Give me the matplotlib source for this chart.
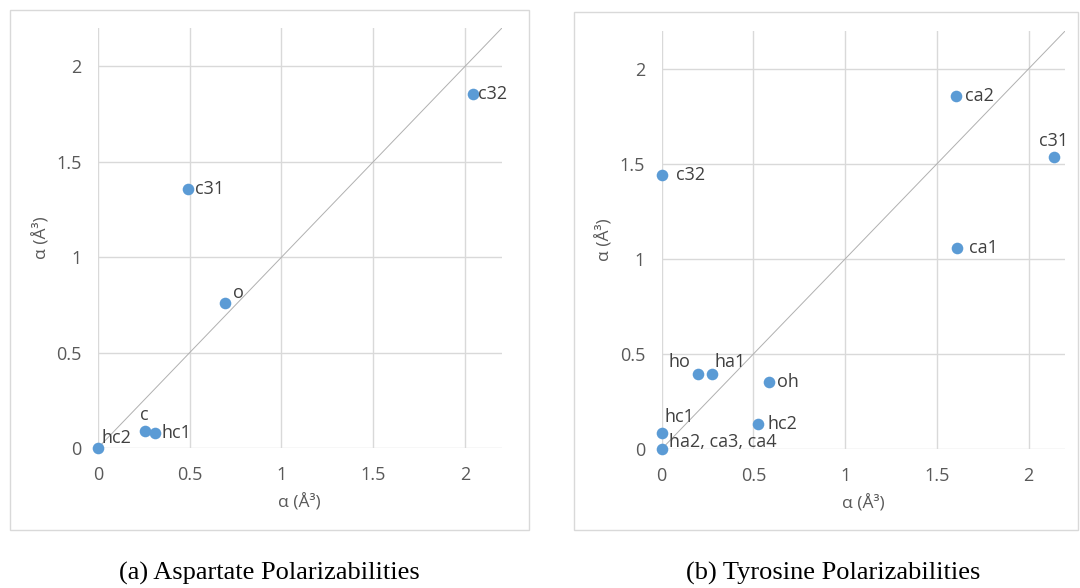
import matplotlib.pyplot as plt
from matplotlib.patches import Rectangle

plt.rcParams["font.family"] = ["Open Sans", "DejaVu Sans"]

# polarizabilities, alpha in cubic angstrom (x: one model, y: the other)
asp_atoms = ["hc2", "c", "hc1", "o", "c31", "c32"]
asp_x = [0.0, 0.254, 0.309, 0.693, 0.490, 2.043]
asp_y = [0.0, 0.089, 0.077, 0.762, 1.355, 1.855]

tyr_atoms = ["ha2, ca3, ca4", "hc1", "hc2", "ho", "ha1", "oh", "ca1", "c32", "c31", "ca2"]
tyr_x = [0.0, 0.0, 0.523, 0.200, 0.273, 0.585, 1.611, 0.0, 2.138, 1.602]
tyr_y = [0.0, 0.082, 0.130, 0.393, 0.393, 0.350, 1.056, 1.440, 1.534, 1.857]

ticks = [0, 0.5, 1, 1.5, 2]
tick_labels = ["0", "0.5", "1", "1.5", "2"]
limit = 2.2

# where each point label sits: offset in points, horizontal alignment
asp_place = {
    "hc2": (2.5, 7.5, "left"),
    "c": (0, 11.5, "center"),
    "hc1": (5, 0, "left"),
    "o": (6, 7, "left"),
    "c31": (5, 0, "left"),
    "c32": (4, 0, "left"),
}
tyr_place = {
    "ha2, ca3, ca4": (5, 5, "left"),
    "hc1": (2, 12, "left"),
    "hc2": (7, 0, "left"),
    "ho": (-5.5, 8.5, "right"),
    "ha1": (2, 8.5, "left"),
    "oh": (6, 0, "left"),
    "ca1": (8.5, 0, "left"),
    "c32": (10, 0, "left"),
    "c31": (0, 11.5, "center"),
    "ca2": (7, 0, "left"),
}

TEXT = "#595959"
GRID = "#d9d9d9"
DOT = "#5b9bd5"


def draw_panel(ax, atoms, xs, ys, place):
    ax.set_xlim(0, limit)
    ax.set_ylim(0, limit)
    ax.set_xticks(ticks, tick_labels)
    ax.set_yticks(ticks, tick_labels)
    ax.grid(True, color=GRID, linewidth=1.0)
    ax.set_axisbelow(True)
    for side in ax.spines.values():
        side.set_visible(False)
    ax.tick_params(length=0, labelsize=13, labelcolor=TEXT)
    ax.tick_params(axis="x", pad=13)
    ax.tick_params(axis="y", pad=12)

    ax.plot([0, limit], [0, limit], color="#b0b0b0", linewidth=0.7, zorder=2)
    ax.scatter(xs, ys, s=70, color=DOT, linewidths=0, zorder=3, clip_on=False)
    for name, x, y in zip(atoms, xs, ys):
        dx, dy, ha = place[name]
        ax.annotate(name, (x, y), xytext=(dx, dy), textcoords="offset points",
                    ha=ha, va="center", fontsize=13, color="#404040", zorder=4)

    ax.set_xlabel("α (Å³)", fontsize=12.5, color=TEXT)
    ax.set_ylabel("α (Å³)", fontsize=12.5, color=TEXT)
    ax.xaxis.set_label_coords(0.5, -0.13)
    ax.xaxis.label.set_va("center")
    ax.yaxis.set_label_coords(-0.14, 0.5)
    ax.yaxis.label.set_va("center")


fig = plt.figure(figsize=(10.8, 5.88), dpi=100)

# chart frames
fig.patches.append(Rectangle((0.0093, 0.0986), 0.4808, 0.8838, transform=fig.transFigure,
                             fill=False, edgecolor=GRID, linewidth=1.0))
fig.patches.append(Rectangle((0.5318, 0.0986), 0.4664, 0.8804, transform=fig.transFigure,
                             fill=False, edgecolor=GRID, linewidth=1.0))

ax1 = fig.add_axes([0.0907, 0.2381, 0.3738, 0.7138])
ax2 = fig.add_axes([0.6127, 0.2364, 0.3738, 0.7114])

draw_panel(ax1, asp_atoms, asp_x, asp_y, asp_place)
draw_panel(ax2, tyr_atoms, tyr_x, tyr_y, tyr_place)

fig.text(0.2494, 0.024, "(a) Aspartate Polarizabilities", ha="center", va="center",
         family="Liberation Serif", fontsize=19, color="black")
fig.text(0.7718, 0.024, "(b) Tyrosine Polarizabilities", ha="center", va="center",
         family="Liberation Serif", fontsize=19, color="black")

fig.savefig("out.png", dpi=100)
plt.close(fig)
